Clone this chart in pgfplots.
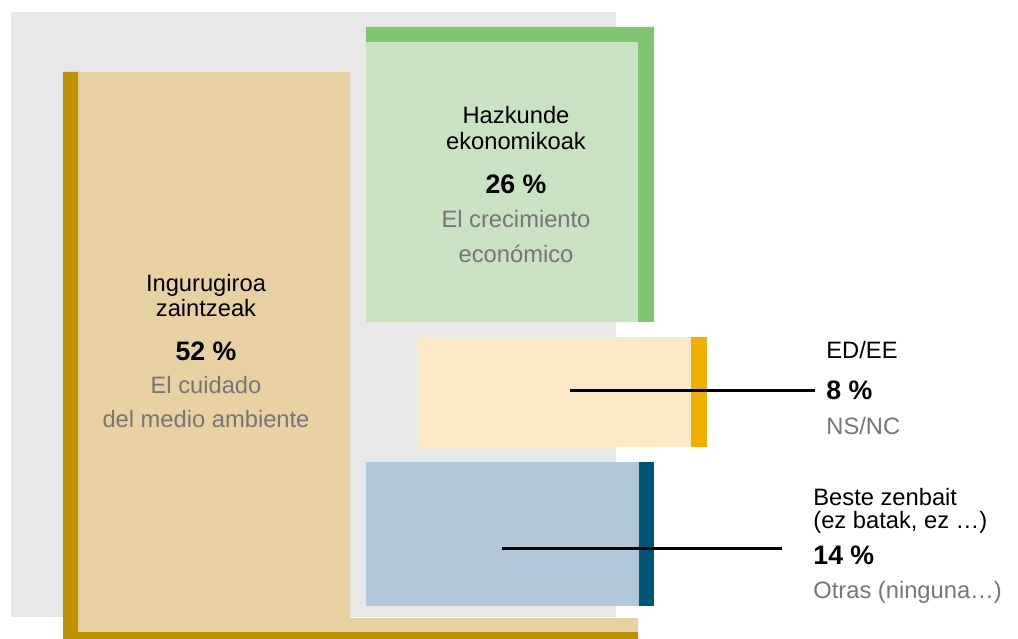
\documentclass[border=0pt]{standalone}
\usepackage{fontspec}
\setmainfont{Liberation Sans}
\usepackage{pgfplots}
\pgfplotsset{compat=1.18}

\definecolor{bgGrey}{HTML}{E8E8E8}
\definecolor{envFill}{HTML}{E7D1A3}
\definecolor{envBar}{HTML}{BF9300}
\definecolor{ecoFill}{HTML}{C9E2C1}
\definecolor{ecoBar}{HTML}{80C571}
\definecolor{nsFill}{HTML}{FDE8C5}
\definecolor{nsBar}{HTML}{F0B000}
\definecolor{othFill}{HTML}{B0C8D7}
\definecolor{othBar}{HTML}{005577}
\definecolor{subGrey}{HTML}{767676}

\begin{document}
\begin{tikzpicture}[lab/.style={font=\fontsize{11.9}{13}\selectfont},
  pct/.style={font=\fontsize{13.4}{14}\selectfont\bfseries},
  sub/.style={font=\fontsize{11.9}{13}\selectfont, text=subGrey}]
\begin{axis}[width=509bp, height=319.5bp, scale only axis,
  xmin=0, xmax=1018, ymin=0, ymax=639, y dir=reverse,
  hide axis, clip=false, no markers]
  % page extent
  \addplot[draw=none] coordinates {(0,0) (1018,639)};
  % grey backdrop
  \addplot[draw=none, fill=bgGrey] coordinates {(11,12) (616,12) (616,617) (11,617)};
  % 52 % : L-shaped block
  \addplot[draw=none, fill=envFill] coordinates {(78,72) (350,72) (350,618) (638,618) (638,632) (78,632)};
  \addplot[draw=none, fill=envBar] coordinates {(63,72) (78,72) (78,632) (638,632) (638,639) (63,639)};
  % 26 %
  \addplot[draw=none, fill=ecoFill] coordinates {(366,42) (638,42) (638,322) (366,322)};
  \addplot[draw=none, fill=ecoBar] coordinates {(366,27) (654,27) (654,322) (638,322) (638,42) (366,42)};
  % 8 %
  \addplot[draw=none, fill=nsFill] coordinates {(418,337) (691,337) (691,447) (418,447)};
  \addplot[draw=none, fill=nsBar] coordinates {(691,337) (707,337) (707,447) (691,447)};
  % 14 %
  \addplot[draw=none, fill=othFill] coordinates {(366,462) (639,462) (639,606) (366,606)};
  \addplot[draw=none, fill=othBar] coordinates {(639,462) (654,462) (654,606) (639,606)};
  % leader lines
  \addplot[black, line width=1.5bp] coordinates {(570,390) (815,390)};
  \addplot[black, line width=1.5bp] coordinates {(502,548) (782,548)};

  \node[lab, anchor=base] at (axis cs:206,291) {Ingurugiroa};
  \node[lab, anchor=base] at (axis cs:206,316) {zaintzeak};
  \node[pct, anchor=base] at (axis cs:206,360) {52 \%};
  \node[sub, anchor=base] at (axis cs:206,393) {El cuidado};
  \node[sub, anchor=base] at (axis cs:206,427) {del medio ambiente};

  \node[lab, anchor=base] at (axis cs:516,123) {Hazkunde};
  \node[lab, anchor=base] at (axis cs:516,149) {ekonomikoak};
  \node[pct, anchor=base] at (axis cs:516,193) {26 \%};
  \node[sub, anchor=base] at (axis cs:516,227) {El crecimiento};
  \node[sub, anchor=base] at (axis cs:516,262) {económico};

  \node[lab, anchor=base west, inner sep=0pt] at (axis cs:826,358) {ED/EE};
  \node[pct, anchor=base west, inner sep=0pt] at (axis cs:826,399) {8 \%};
  \node[sub, anchor=base west, inner sep=0pt] at (axis cs:826,434) {NS/NC};

  \node[lab, anchor=base west, inner sep=0pt] at (axis cs:813,505) {Beste zenbait};
  \node[lab, anchor=base west, inner sep=0pt] at (axis cs:813,528) {(ez batak, ez …)};
  \node[pct, anchor=base west, inner sep=0pt] at (axis cs:813,564) {14 \%};
  \node[sub, anchor=base west, inner sep=0pt] at (axis cs:813,598) {Otras (ninguna…)};
\end{axis}
\end{tikzpicture}
\end{document}
